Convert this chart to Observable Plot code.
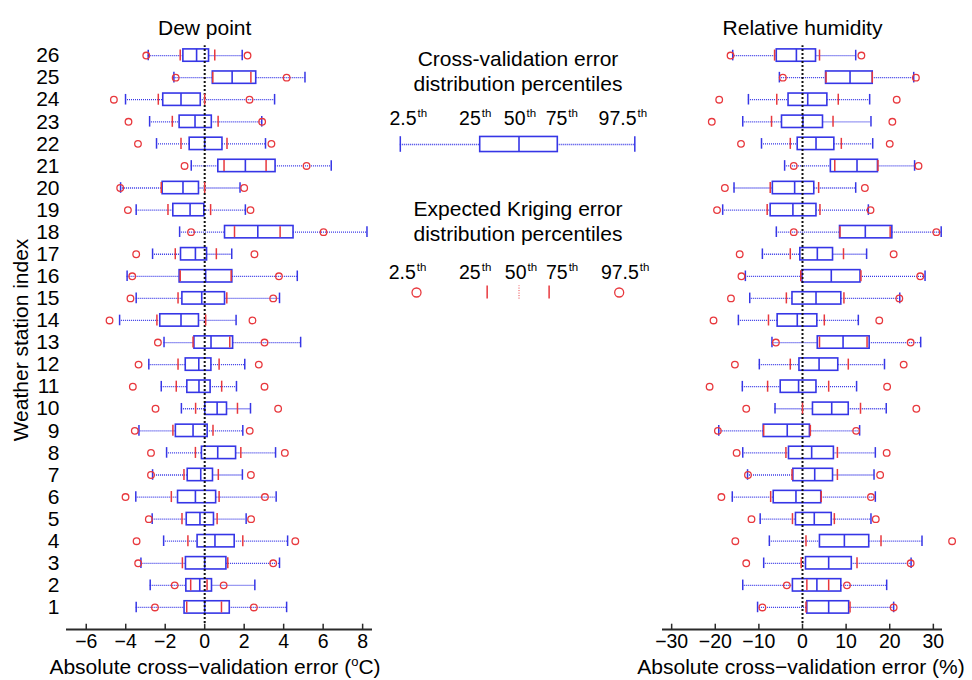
<!DOCTYPE html>
<html>
<head>
<meta charset="utf-8">
<script src="https://cdn.jsdelivr.net/npm/d3@7"></script>
<script src="https://cdn.jsdelivr.net/npm/@observablehq/plot@0.6"></script>
<style>
  body { margin: 0; background: #fff; }
  #fig { position: relative; width: 972px; height: 680px; overflow: hidden; background: #fff;
         font-family: "Liberation Sans", Arial, Helvetica, sans-serif; color: #000; }
  .abs { position: absolute; white-space: nowrap; }
  .t21 { font-size: 21px; line-height: 25px; text-align: center; }
  .t21 sup { font-size: 13px; line-height: 0; vertical-align: 8px; }
</style>
</head>
<body>
<div id="fig"></div>
<script>
// Weather stations 1..26
const stations = d3.range(1, 27);

// Dew point: cross-validation error percentiles (°C), station 1 first
const dewP025 = [-3.47, -2.76, -3.23, -2.08, -2.66, -3.49, -2.64, -1.93, -3.33, -1.18, -2.20, -2.83, -2.06, -4.31, -3.47, -3.93, -2.64, -1.27, -3.47, -4.26, -0.68, -2.44, -2.79, -4.01, -1.56, -2.86];
const dewP25  = [-1.02, -0.93, -0.95, -0.36, -0.91, -1.35, -0.86, -0.14, -1.46, 0.03, -0.88, -0.96, -0.52, -2.25, -1.13, -1.27, -1.20, 1.03, -1.59, -2.13, 0.69, -0.76, -1.27, -2.10, 0.41, -1.08];
const dewP50  = [0.00, -0.25, 0.00, 0.52, -0.24, -0.47, -0.20, 0.66, -0.59, 0.63, -0.29, -0.30, 0.32, -1.20, -0.15, 0.05, -0.47, 2.69, -0.74, -1.10, 2.06, 0.00, -0.49, -1.20, 1.39, -0.41];
const dewP75  = [1.27, 0.37, 1.10, 1.52, 0.47, 0.58, 0.42, 1.59, 0.15, 1.13, 0.30, 0.34, 1.44, -0.29, 1.03, 1.40, 0.12, 4.50, -0.02, -0.29, 3.59, 0.90, 0.36, -0.20, 2.61, 0.22];
const dewP975 = [4.15, 2.54, 3.79, 4.20, 2.10, 3.62, 1.91, 3.59, 1.93, 2.32, 1.61, 2.03, 4.86, 1.59, 3.79, 4.69, 1.37, 8.22, 2.06, 1.79, 6.41, 3.08, 2.89, 3.54, 5.08, 1.90];
// Dew point: expected kriging error percentiles (°C)
const dewK025 = [-2.52, -1.52, -3.37, -3.45, -2.83, -4.01, -2.72, -2.72, -3.54, -2.49, -3.64, -3.35, -2.37, -4.82, -3.76, -3.67, -3.47, -0.69, -3.89, -4.28, -1.02, -3.38, -3.86, -4.60, -1.47, -2.96];
const dewK25  = [-0.91, -0.71, -1.13, -0.85, -1.15, -1.69, -1.05, -0.47, -1.61, -0.46, -1.44, -1.35, -0.59, -2.42, -1.35, -1.24, -1.49, 1.51, -1.86, -2.20, 0.98, -1.20, -1.64, -2.35, 0.41, -1.24];
const dewK75  = [0.85, 0.12, 1.17, 1.93, 0.63, 0.73, 0.69, 1.83, 0.42, 1.66, 0.86, 0.73, 1.27, 0.05, 1.12, 1.34, 0.59, 3.82, 0.30, 0.00, 3.11, 1.13, 0.68, 0.00, 2.34, 0.51];
const dewK975 = [2.49, 0.96, 3.47, 4.59, 2.35, 3.05, 2.34, 4.06, 2.28, 3.72, 3.03, 2.74, 3.03, 2.42, 3.47, 3.76, 2.52, 6.02, 2.32, 2.00, 5.16, 3.38, 2.91, 2.27, 4.15, 2.17];

// Relative humidity: cross-validation error percentiles (%)
const rhP025 = [-10.3, -13.7, -8.9, -7.6, -9.7, -16.1, -12.6, -13.7, -19.2, -6.3, -13.8, -9.9, -7.0, -14.7, -12.1, -13.1, -9.2, -6.0, -18.3, -15.7, -4.1, -9.4, -13.7, -12.4, -5.3, -16.0];
const rhP25  = [1.1, -2.2, 0.8, 4.0, -1.5, -6.6, -2.1, -3.1, -8.9, 2.4, -5.0, -0.7, 3.5, -5.7, -2.3, 0.0, -0.5, 8.6, -7.3, -6.8, 6.5, -1.1, -4.7, -3.2, 5.4, -5.9];
const rhP50  = [6.0, 3.3, 6.0, 9.6, 2.7, -1.5, 2.8, 2.1, -3.5, 6.7, -0.9, 3.8, 9.3, -1.2, 3.1, 6.6, 3.4, 14.4, -2.2, -1.8, 12.5, 3.1, 0.1, 1.2, 10.9, -1.4];
const rhP75  = [10.7, 8.9, 11.3, 15.3, 6.7, 4.3, 7.0, 7.2, 1.7, 10.6, 3.2, 8.2, 15.4, 3.4, 8.9, 13.3, 7.0, 20.6, 3.2, 2.7, 17.3, 7.3, 4.7, 5.7, 16.1, 3.1];
const rhP975 = [20.9, 19.3, 24.9, 27.4, 15.7, 16.7, 16.4, 16.7, 13.1, 19.2, 12.4, 18.8, 27.1, 12.8, 22.3, 28.1, 14.7, 31.8, 15.1, 12.2, 25.7, 16.1, 15.7, 15.4, 25.5, 12.2];
// Relative humidity: expected kriging error percentiles (%)
const rhK025 = [-9.2, -3.6, -12.9, -15.4, -11.7, -18.6, -12.5, -15.1, -19.4, -12.9, -21.3, -15.5, -6.1, -20.4, -16.4, -14.0, -14.4, -2.0, -19.6, -17.8, -2.0, -14.1, -20.8, -19.1, -4.5, -16.5];
const rhK25  = [0.8, 1.0, -0.3, 0.8, -2.3, -7.3, -2.4, -3.8, -8.9, 0.0, -8.0, -2.8, 3.9, -7.8, -3.7, -0.4, -2.8, 8.6, -8.1, -7.4, 7.4, -2.8, -7.1, -5.9, 5.4, -6.4];
const rhK75  = [10.9, 6.0, 12.5, 18.0, 7.3, 4.3, 8.0, 8.0, 1.8, 13.3, 6.0, 10.5, 14.8, 5.0, 9.5, 13.4, 9.4, 20.1, 4.0, 3.7, 17.3, 8.9, 7.0, 8.2, 16.0, 3.9];
const rhK975 = [20.9, 10.2, 24.8, 34.3, 16.8, 15.7, 17.8, 19.3, 12.3, 26.1, 19.4, 23.2, 24.8, 17.6, 22.2, 27.0, 20.9, 30.7, 15.6, 14.3, 26.6, 20.0, 20.6, 21.6, 26.0, 13.5];

// Axis tick values
const dewTicks = [-6, -4, -2, 0, 2, 4, 6, 8];
const rhTicks = [-30, -20, -10, 0, 10, 20, 30];

// Legend: percentile names and illustrative glyph positions (standardised units)
const legendPercentiles = ["2.5", "25", "50", "75", "97.5"];
const legendBox = [-2.05, -0.67, 0, 0.67, 2.0];
const legendKriging = [-1.77, -0.55, 0, 0.52, 1.73];

const BLUE = "#3636e6";
const RED = "#e8383d";
const FONT = "'Liberation Sans', Arial, Helvetica, sans-serif";
const fig = document.getElementById("fig");

function place(el, left, top) {
  el.style.position = "absolute";
  el.style.left = left + "px";
  el.style.top = top + "px";
  fig.appendChild(el);
  return el;
}

function panel({title, p025, p25, p50, p75, p975, k025, k25, k75, k975, domain, ticks, left, width, marginLeft, marginRight, showY}) {
  const rows = stations.map((s, i) => ({
    s, lo: p025[i], q1: p25[i], med: p50[i], q3: p75[i], hi: p975[i],
    k025: k025[i], k25: k25[i], k75: k75[i], k975: k975[i]
  }));
  const hb = 0.28, hc = 0.24, hr = 0.25;
  const svg = Plot.plot({
    width, height: 680,
    marginLeft, marginRight, marginTop: 33, marginBottom: 51,
    x: {domain, label: null},
    y: {domain: [0, 27], label: null, axis: showY ? undefined : null},
    style: {fontFamily: FONT, fontSize: "19px", color: "#000", background: "transparent", overflow: "visible"},
    marks: [
      // axis baseline with inward ticks
      Plot.ruleY([0], {stroke: "#2a2a2a", strokeWidth: 2}),
      Plot.ruleX(ticks, {x: d => d, y1: 0, y2: 0.24, stroke: "#2a2a2a", strokeWidth: 1.5}),
      Plot.axisX(ticks, {tickSize: 0, tickPadding: 5, fontSize: 19.5, label: null}),
      showY ? Plot.axisY(stations, {tickSize: 0, tickPadding: 7, fontSize: 21, label: null}) : null,
      // whiskers
      Plot.ruleY(rows, {y: "s", x1: "lo", x2: "q1", stroke: BLUE, strokeWidth: 1.3, strokeDasharray: "1,1"}),
      Plot.ruleY(rows, {y: "s", x1: "q3", x2: "hi", stroke: BLUE, strokeWidth: 1.3, strokeDasharray: "1,1"}),
      Plot.ruleX(rows, {x: "lo", y1: d => d.s - hc, y2: d => d.s + hc, stroke: BLUE, strokeWidth: 1.5}),
      Plot.ruleX(rows, {x: "hi", y1: d => d.s - hc, y2: d => d.s + hc, stroke: BLUE, strokeWidth: 1.5}),
      // boxes and medians
      Plot.rect(rows, {x1: "q1", x2: "q3", y1: d => d.s - hb, y2: d => d.s + hb, fill: "white", stroke: BLUE, strokeWidth: 1.6}),
      Plot.ruleX(rows, {x: "med", y1: d => d.s - hb, y2: d => d.s + hb, stroke: BLUE, strokeWidth: 1.6}),
      // zero reference
      Plot.ruleX([0], {y1: 0.27, y2: 26.45, stroke: "#111", strokeWidth: 2, strokeDasharray: "2,2"}),
      // expected kriging error percentiles
      Plot.ruleX(rows, {x: "k25", y1: d => d.s - hr, y2: d => d.s + hr, stroke: RED, strokeWidth: 1.5}),
      Plot.ruleX(rows, {x: "k75", y1: d => d.s - hr, y2: d => d.s + hr, stroke: RED, strokeWidth: 1.5}),
      Plot.dot(rows, {x: "k025", y: "s", r: 3.3, stroke: RED, strokeWidth: 1.3}),
      Plot.dot(rows, {x: "k975", y: "s", r: 3.3, stroke: RED, strokeWidth: 1.3}),
      // panel title
      Plot.text([title], {x: () => 0, text: d => d, frameAnchor: "top", dy: -13, fontSize: 21})
    ]
  });
  place(svg, left, 0);
  return svg;
}

panel({
  title: "Dew point",
  p025: dewP025, p25: dewP25, p50: dewP50, p75: dewP75, p975: dewP975,
  k025: dewK025, k25: dewK25, k75: dewK75, k975: dewK975,
  domain: [-7.0, 8.5], ticks: dewTicks,
  left: 0, width: 390, marginLeft: 66, marginRight: 18, showY: true
});

panel({
  title: "Relative humidity",
  p025: rhP025, p25: rhP25, p50: rhP50, p75: rhP75, p975: rhP975,
  k025: rhK025, k25: rhK25, k75: rhK75, k975: rhK975,
  domain: [-32.1, 32.1], ticks: rhTicks,
  left: 600, width: 372, marginLeft: 62, marginRight: 30, showY: false
});

// Legend blocks
const legendX = {domain: [-2.392, 2.271], axis: null};

function legendLabels(values, shifts) {
  return legendPercentiles.map((p, i) =>
    Plot.text([p], {x: values[i], y: 1, dx: shifts[i], text: d => d, fontSize: 19.5}));
}

function addOrdinalSuffix(svg) {
  d3.select(svg).selectAll("g[aria-label='text'] text")
    .append("tspan").attr("dy", "-8").attr("dx", "1").attr("font-size", "11.5").text("th");
}

const legend1 = Plot.plot({
  width: 270, height: 60, marginLeft: 0, marginRight: 0, marginTop: 18, marginBottom: 16,
  x: legendX, y: {domain: [0, 1], axis: null},
  style: {fontFamily: FONT, fontSize: "19.5px", color: "#000", background: "transparent", overflow: "visible"},
  marks: [
    Plot.ruleY([0], {x1: legendBox[0], x2: legendBox[1], stroke: BLUE, strokeWidth: 1.3, strokeDasharray: "1,1"}),
    Plot.ruleY([0], {x1: legendBox[3], x2: legendBox[4], stroke: BLUE, strokeWidth: 1.3, strokeDasharray: "1,1"}),
    Plot.ruleX([legendBox[0], legendBox[4]], {y1: -0.3, y2: 0.3, stroke: BLUE, strokeWidth: 1.5}),
    Plot.rect([0], {x1: legendBox[1], x2: legendBox[3], y1: -0.29, y2: 0.29, fill: "white", stroke: BLUE, strokeWidth: 1.6}),
    Plot.ruleX([legendBox[2]], {y1: -0.29, y2: 0.29, stroke: BLUE, strokeWidth: 1.6}),
    ...legendLabels(legendBox, [8, -5, 1, 4, -12])
  ]
});
addOrdinalSuffix(legend1);
place(legend1, 380, 100);

const legend2 = Plot.plot({
  width: 270, height: 60, marginLeft: 0, marginRight: 0, marginTop: 22, marginBottom: 18,
  x: legendX, y: {domain: [0, 1], axis: null},
  style: {fontFamily: FONT, fontSize: "19.5px", color: "#000", background: "transparent", overflow: "visible"},
  marks: [
    Plot.dot([legendKriging[0], legendKriging[4]], {x: d => d, y: 0, r: 4.5, stroke: RED, strokeWidth: 1.3}),
    Plot.ruleX([legendKriging[1], legendKriging[3]], {y1: -0.33, y2: 0.33, stroke: RED, strokeWidth: 1.5}),
    Plot.ruleX([legendKriging[2]], {y1: -0.33, y2: 0.33, stroke: RED, strokeWidth: 1, strokeDasharray: "1,1.5"}),
    ...legendLabels(legendKriging, [-9, -12, 2, 13, 6])
  ]
});
addOrdinalSuffix(legend2);
place(legend2, 380, 250);

// Text blocks: legend headings, axis titles
function textBlock(html, left, top, width) {
  const d = document.createElement("div");
  d.className = "abs t21";
  d.style.width = width + "px";
  d.innerHTML = html;
  return place(d, left, top);
}
textBlock("Cross-validation error<br>distribution percentiles", 368, 45.5, 300);
textBlock("Expected Kriging error<br>distribution percentiles", 368, 195.5, 300);
textBlock("Absolute cross\u2212validation error (<sup>o</sup>C)", 15, 653.5, 400);
textBlock("Absolute cross\u2212validation error (%)", 601, 653.5, 400);

const ylab = document.createElement("div");
ylab.className = "abs t21";
ylab.textContent = "Weather station index";
ylab.style.transform = "translate(-50%, -50%) rotate(-90deg)";
place(ylab, 20, 340);
</script>
</body>
</html>
